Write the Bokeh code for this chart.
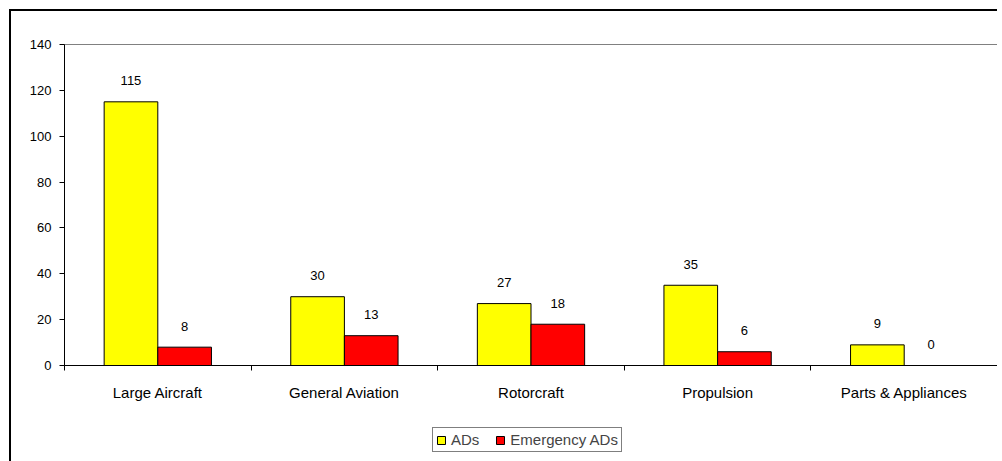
from bokeh.plotting import figure
from bokeh.models import (ColumnDataSource, Range1d, LinearAxis, FixedTicker, Legend, LegendItem)
from bokeh.layouts import column
from bokeh.core.properties import value
from bokeh.embed import file_html
from bokeh.resources import INLINE

categories = ["Large Aircraft", "General Aviation", "Rotorcraft", "Propulsion", "Parts & Appliances"]
ads = [115, 30, 27, 35, 9]
emergency_ads = [8, 13, 18, 6, 0]
y_ticks = [0, 20, 40, 60, 80, 100, 120, 140]
series_names = ["ADs", "Emergency ADs"]
series_colors = ["#FFFF00", "#FF0000"]

FONT = "Liberation Sans"
w = 0.2875
n = len(categories)
centers = [i + 0.5 for i in range(n)]
src = ColumnDataSource(dict(
    x1=[c - w / 2 for c in centers], x2=[c + w / 2 for c in centers],
    ads=ads, em=emergency_ads,
    ads_txt=[str(v) for v in ads], em_txt=[str(v) for v in emergency_ads]))

p = figure(x_range=Range1d(0, n), y_range=Range1d(0, 140),
           width=986, height=402, frame_width=931, frame_height=319,
           min_border_left=53, min_border_right=2, min_border_top=33, min_border_bottom=50,
           output_backend="svg", toolbar_location=None, x_axis_location=None,
           background_fill_color="white", border_fill_color="white")
p.styles = {"border-left": "2px solid black", "border-top": "2px solid black",
            "margin-left": "9px", "margin-top": "9px"}
p.xgrid.visible = False
p.ygrid.visible = False
p.outline_line_color = "#808080"
p.outline_line_width = 1

# y axis
ya = p.yaxis[0]
ya.ticker = FixedTicker(ticks=y_ticks)
ya.minor_tick_line_color = None
ya.major_tick_out = 5
ya.major_tick_in = 0
ya.major_label_standoff = 8
ya.major_label_text_font = FONT
ya.major_label_text_font_size = "13px"
ya.major_label_text_color = "black"
ya.axis_line_color = "black"

# bars
p.vbar(x="x1", top="ads", width=w, source=src,
       fill_color=series_colors[0], line_color="black", line_width=1)
p.vbar(x="x2", top="em", width=w, source=src,
       fill_color=series_colors[1], line_color="black", line_width=1)

# value labels
for xcol, ycol, tcol in (("x1", "ads", "ads_txt"), ("x2", "em", "em_txt")):
    p.text(x=xcol, y=ycol, text=tcol, source=src,
           text_align="center", text_baseline="middle", y_offset=-21,
           text_font=value(FONT), text_font_size="13px", text_color="black")

# boundary tick axis
ba = LinearAxis(ticker=FixedTicker(ticks=list(range(n + 1))))
ba.major_tick_out = 5
ba.major_tick_in = 0
ba.minor_tick_line_color = None
ba.major_label_overrides = {i: "" for i in range(n + 1)}
ba.major_label_text_font_size = "0px"
ba.major_label_standoff = 0
ba.axis_line_color = "black"
ba.major_tick_line_color = "black"
p.add_layout(ba, "below")

# category labels axis
ca = LinearAxis(ticker=FixedTicker(ticks=centers))
ca.major_label_overrides = {c: name for c, name in zip(centers, categories)}
ca.axis_line_color = None
ca.major_tick_line_color = None
ca.minor_tick_line_color = None
ca.major_tick_out = 0
ca.major_tick_in = 0
ca.major_label_standoff = 13
ca.major_label_text_font = FONT
ca.major_label_text_font_size = "15px"
ca.major_label_text_color = "black"
p.add_layout(ca, "below")

# legend strip
p2 = figure(width=984, height=48, min_border=0, output_backend="svg", toolbar_location=None,
            x_axis_location=None, y_axis_location=None,
            x_range=Range1d(0, 1), y_range=Range1d(0, 1),
            background_fill_color="white", border_fill_color="white")
p2.styles = {"border-left": "2px solid black", "margin-left": "9px"}
p2.xgrid.visible = False
p2.ygrid.visible = False
p2.outline_line_color = None
items = []
for name, col in zip(series_names, series_colors):
    # legend proxy glyph, kept outside the visible range
    r = p2.vbar(x=[-5], top=[0], width=0.1, fill_color=col, line_color="black", line_width=1)
    items.append(LegendItem(label=name, renderers=[r]))

legend = Legend(items=items, orientation="horizontal", location=(368, 9))
legend.border_line_color = "black"
legend.border_line_width = 1
legend.label_text_font = FONT
legend.label_text_font_size = "15px"
legend.glyph_width = 10
legend.glyph_height = 10
legend.label_standoff = 5
legend.spacing = 16
legend.padding = 3
legend.margin = 0
legend.label_height = 14
p2.add_layout(legend, "center")

layout = column(p, p2, spacing=0)
open("out.html", "w").write(file_html(layout, INLINE))
